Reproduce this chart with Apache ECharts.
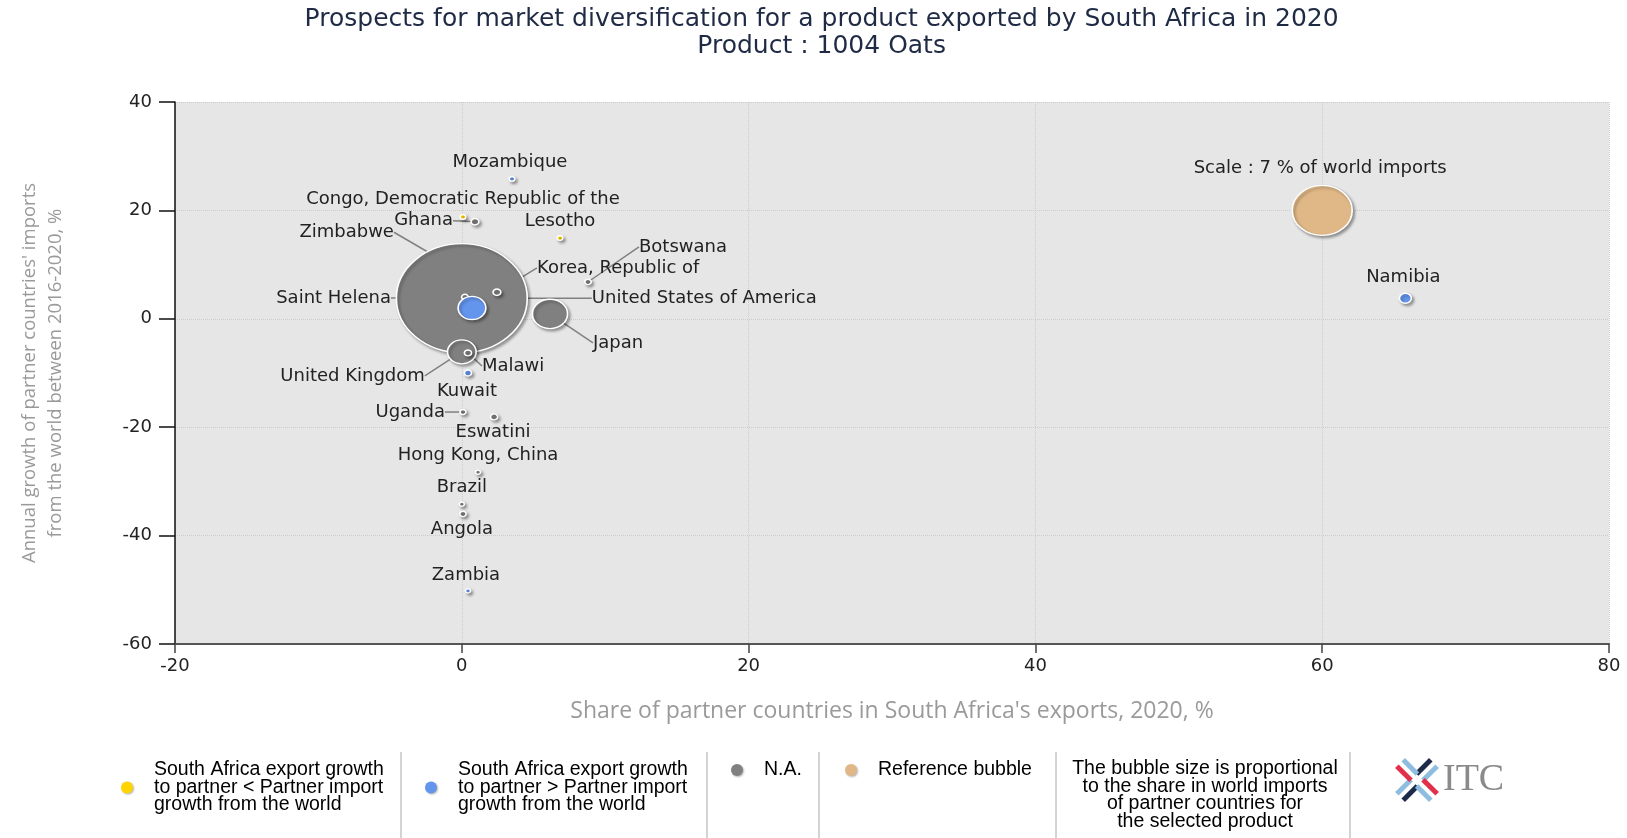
<!doctype html>
<html lang="en">
<head>
<meta charset="UTF-8">
<title>Prospects for market diversification - 1004 Oats</title>
<script src="https://cdn.jsdelivr.net/npm/echarts@6/dist/echarts.min.js"></script>
<style>
    html, body { margin: 0; padding: 0; background: #fff; }
    #main { width: 1627px; height: 838px; }
</style>
</head>
<body>
<div id="main"></div>

<script>
    // partner countries: x = share in South Africa's exports 2020 (%), y = annual import growth 2016-2020 (%)
    var countries = ['United States of America', 'Saint Helena', 'Zimbabwe', 'Ghana', 'Botswana', 'Japan',
        'United Kingdom', 'Malawi', 'Uganda', 'Eswatini', 'Hong Kong, China', 'Brazil', 'Angola',
        'Congo, Democratic Republic of the', 'Lesotho',
        'Mozambique', 'Korea, Republic of', 'Kuwait', 'Zambia', 'Namibia'];
    var exportShare = [0.0, 0.22, 2.45, 0.92, 8.8, 6.15, 0.0, 0.43, 0.08, 2.25, 1.13, 0.0, 0.08,
        0.08, 6.85,
        3.5, 0.71, 0.43, 0.43, 65.8];
    var importGrowth = [3.8, 4.0, 4.9, 17.9, 6.8, 0.9, -6.1, -6.3, -17.2, -18.1, -28.3, -34.2, -36.0,
        18.8, 14.9,
        25.8, 2.0, -10.0, -50.2, 3.8];
    // share in world imports (%), gives the bubble size
    var worldImportShare = [33.3, 0.09, 0.12, 0.12, 0.08, 2.4, 1.6, 0.1, 0.07, 0.1, 0.05, 0.05, 0.08,
        0.06, 0.06,
        0.06, 1.5, 0.1, 0.05, 0.28];
    // 'lower' = SA export growth < partner import growth, 'higher' = >, 'na' = N.A.
    var growthGroup = ['na', 'na', 'na', 'na', 'na', 'na', 'na', 'na', 'na', 'na', 'na', 'na', 'na',
        'lower', 'lower',
        'higher', 'higher', 'higher', 'higher', 'higher'];

    // reference bubble
    var refName = 'Scale : 7 % of world imports';
    var refX = 60;
    var refY = 20;
    var refShare = 7;

    // axes
    var xRange = [-20, 80];
    var yRange = [-60, 40];
    var tickStep = 20;

    // labels that have a guide line in the original
    var leaderLines = ['Ghana', 'Zimbabwe', 'Saint Helena', 'Korea, Republic of', 'United States of America',
        'Botswana', 'Japan', 'United Kingdom', 'Malawi', 'Uganda'];

    // label placement relative to the bubble centre: [dx, dy, align]
    var labelOffsets = {
        'United States of America': [130, 0, 'left'],
        'Saint Helena': [-74, 1, 'right'],
        'Zimbabwe': [-103, -60, 'right'],
        'Ghana': [-22, -1, 'right'],
        'Botswana': [51, -35, 'left'],
        'Japan': [43, 29, 'left'],
        'United Kingdom': [-37, 24, 'right'],
        'Malawi': [14, 13, 'left'],
        'Uganda': [-18, 0, 'right'],
        'Eswatini': [-1, 15, 'center'],
        'Hong Kong, China': [0, -17, 'center'],
        'Brazil': [0, -17, 'center'],
        'Angola': [-1, 15, 'center'],
        'Congo, Democratic Republic of the': [0, -18, 'center'],
        'Lesotho': [0, -17, 'center'],
        'Mozambique': [-2, -17, 'center'],
        'Korea, Republic of': [65, -40, 'left'],
        'Kuwait': [-1, 18, 'center'],
        'Zambia': [-2, -16, 'center'],
        'Namibia': [-2, -21, 'center'],
        'Scale : 7 % of world imports': [-2, -42, 'center']
    };

    var legendText = {
        'lower': 'South Africa export growth\nto partner < Partner import\ngrowth from the world',
        'higher': 'South Africa export growth\nto partner > Partner import\ngrowth from the world',
        'N.A.': 'N.A.',
        'Reference bubble': 'Reference bubble'
    };

    // the original bubbles are slightly wider than tall
    var ellipse = 'path://M0,50 C0,22.4 22.4,0 50,0 C77.6,0 100,22.4 100,50 C100,77.6 77.6,100 50,100 C22.4,100 0,77.6 0,50 Z';

    function bubbleSize(v) {
        var k = Math.sqrt(v[2] / refShare);
        return [60 * k, 50 * k];
    }

    function placeLabel(p) {
        var o = labelOffsets[p.text] || [0, -16, 'center'];
        return {
            x: p.rect.x + p.rect.width / 2 + o[0],
            y: p.rect.y + p.rect.height / 2 + o[1],
            align: o[2],
            verticalAlign: 'middle'
        };
    }

    function groupData(group) {
        var out = [];
        countries.forEach(function (c, i) {
            if (growthGroup[i] !== group) return;
            out.push({
                name: c,
                value: [exportShare[i], importGrowth[i], worldImportShare[i]],
                labelLine: {show: leaderLines.indexOf(c) >= 0}
            });
        });
        return out;
    }

    function bubbleSeries(name, color, data) {
        return {
            name: name,
            type: 'scatter',
            symbol: ellipse,
            symbolSize: bubbleSize,
            data: data,
            itemStyle: {
                color: color,
                opacity: 1,
                borderColor: '#fff',
                borderWidth: 1.5,
                shadowBlur: 3,
                shadowOffsetX: 2,
                shadowOffsetY: 2,
                shadowColor: 'rgba(0,0,0,0.35)'
            },
            label: {
                show: true,
                formatter: '{b}',
                fontFamily: 'DejaVu Sans',
                fontSize: 18,
                color: '#222'
            },
            labelLine: {
                show: true,
                lineStyle: {color: '#808080', width: 1.5}
            },
            labelLayout: placeLabel,
            emphasis: {disabled: true}
        };
    }

    function legendItem(name, left) {
        return {
            data: [name],
            left: left,
            top: 760,
            padding: 0,
            icon: 'circle',
            itemWidth: 12,
            itemHeight: 12,
            selectedMode: false,
            formatter: function (n) { return legendText[n]; },
            itemStyle: {shadowBlur: 2, shadowOffsetX: 1, shadowOffsetY: 1, shadowColor: 'rgba(0,0,0,0.3)', borderWidth: 0},
            textStyle: {
                fontFamily: 'Liberation Sans',
                fontSize: 19.5,
                lineHeight: 17.5,
                color: '#000',
                padding: [0, 0, 0, 16]
            }
        };
    }

    var sepX = [401, 707, 819, 1056, 1350];
    var separators = sepX.map(function (x) {
        return {
            type: 'line',
            shape: {x1: x, y1: 752, x2: x, y2: 838},
            style: {stroke: '#a8a8a8', lineWidth: 1}
        };
    });

    var myChart = echarts.init(document.getElementById('main'));
    myChart.setOption({
        backgroundColor: '#fff',
        animation: false,
        title: {
            text: 'Prospects for market diversification for a product exported by South Africa in 2020\nProduct : 1004 Oats',
            left: '50.5%',
            textAlign: 'center',
            top: 6,
            padding: 0,
            textStyle: {
                fontFamily: 'DejaVu Sans',
                fontSize: 25,
                fontWeight: 'normal',
                color: '#1f2a44',
                lineHeight: 27
            }
        },
        legend: [
            legendItem('lower', 121),
            legendItem('higher', 425),
            legendItem('N.A.', 731),
            legendItem('Reference bubble', 845)
        ],
        grid: {
            left: 175,
            right: 18,
            top: 102,
            bottom: 194,
            show: true,
            backgroundColor: '#e6e6e6',
            borderWidth: 0
        },
        xAxis: {
            type: 'value',
            min: xRange[0],
            max: xRange[1],
            interval: tickStep,
            name: "Share of partner countries in South Africa's exports, 2020, %",
            nameLocation: 'middle',
            nameGap: 56,
            nameTextStyle: {fontFamily: 'Open Sans', fontSize: 23, color: '#9a9a9a'},
            axisLine: {show: true, onZero: false, lineStyle: {color: '#555', width: 2}},
            axisTick: {show: true, length: 9, lineStyle: {color: '#444', width: 1.5}},
            axisLabel: {fontFamily: 'DejaVu Sans', fontSize: 18, color: '#222', margin: 13},
            splitLine: {show: true, lineStyle: {color: '#cccccc', type: 'dotted', width: 1}}
        },
        yAxis: {
            type: 'value',
            min: yRange[0],
            max: yRange[1],
            interval: tickStep,
            name: "Annual growth of partner countries' imports\nfrom the world between 2016-2020, %",
            nameLocation: 'middle',
            nameGap: 106,
            nameTextStyle: {fontFamily: 'Open Sans', fontSize: 18.5, color: '#9a9a9a', lineHeight: 26},
            axisLine: {show: true, onZero: false, lineStyle: {color: '#111', width: 1.5}},
            axisTick: {show: true, length: 16, lineStyle: {color: '#111', width: 1.5}},
            axisLabel: {fontFamily: 'DejaVu Sans', fontSize: 18, color: '#222', margin: 23},
            splitLine: {show: true, lineStyle: {color: '#cccccc', type: 'dotted', width: 1}}
        },
        series: [
            bubbleSeries('N.A.', '#808080', groupData('na')),
            bubbleSeries('lower', '#ffd400', groupData('lower')),
            bubbleSeries('higher', '#6495ed', groupData('higher')),
            bubbleSeries('Reference bubble', '#e0b887', [
                {name: refName, value: [refX, refY, refShare], labelLine: {show: false}}
            ])
        ],
        graphic: separators.concat([
            {
                type: 'text',
                x: 1205,
                y: 795,
                style: {
                    text: 'The bubble size is proportional\nto the share in world imports\nof partner countries for\nthe selected product',
                    font: '19.5px "Liberation Sans"',
                    lineHeight: 17.5,
                    fill: '#000',
                    align: 'center',
                    verticalAlign: 'middle'
                }
            },
            {
                type: 'group',
                x: 1417,
                y: 780,
                children: [
                    {type: 'rect', rotation: Math.PI / 4, shape: {x: -24, y: -7, width: 20, height: 5}, style: {fill: '#8fbde0'}},
                    {type: 'rect', rotation: Math.PI / 4, shape: {x: 4, y: -7, width: 20, height: 5}, style: {fill: '#1d2a4a'}},
                    {type: 'rect', rotation: Math.PI / 4, shape: {x: -24, y: 2, width: 20, height: 5}, style: {fill: '#1d2a4a'}},
                    {type: 'rect', rotation: Math.PI / 4, shape: {x: 4, y: 2, width: 20, height: 5}, style: {fill: '#8fbde0'}},
                    {type: 'rect', rotation: -Math.PI / 4, shape: {x: -24, y: -7, width: 20, height: 5}, style: {fill: '#8fbde0'}},
                    {type: 'rect', rotation: -Math.PI / 4, shape: {x: 4, y: -7, width: 20, height: 5}, style: {fill: '#e0304a'}},
                    {type: 'rect', rotation: -Math.PI / 4, shape: {x: -24, y: 2, width: 20, height: 5}, style: {fill: '#e0304a'}},
                    {type: 'rect', rotation: -Math.PI / 4, shape: {x: 4, y: 2, width: 20, height: 5}, style: {fill: '#8fbde0'}}
                ]
            },
            {
                type: 'text',
                x: 1443,
                y: 780,
                style: {
                    text: 'ITC',
                    font: '38px "Liberation Serif"',
                    fill: '#8a8a8a',
                    align: 'left',
                    verticalAlign: 'middle'
                }
            }
        ])
    });
</script>
</body>
</html>
